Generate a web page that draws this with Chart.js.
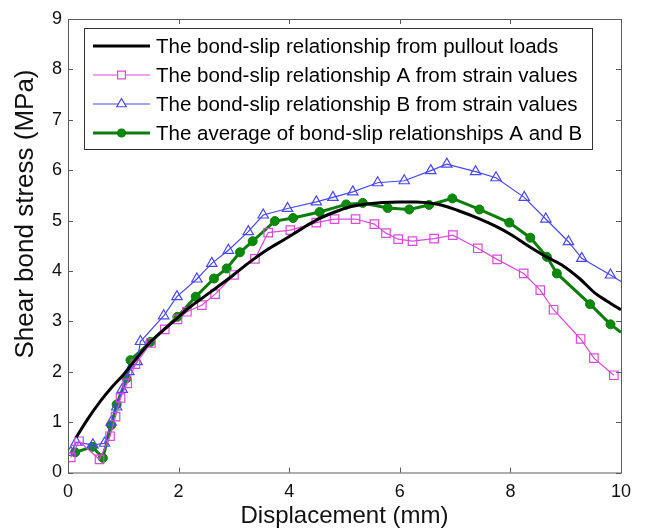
<!DOCTYPE html>
<html>
<head>
<meta charset="utf-8">
<script src="https://cdn.jsdelivr.net/npm/chart.js@4.4.1/dist/chart.umd.min.js"></script>
<style>
  html, body { margin: 0; padding: 0; background: #fff; }
  #wrap { width: 645px; height: 532px; }
</style>
</head>
<body>
<div id="wrap"><canvas id="bondChart" width="645" height="532"></canvas></div>
<script>
// Bond-slip data (displacement in mm, stress in MPa)
const pulloutX = [0.15, 0.35, 0.59, 0.80, 1.01, 1.25, 1.49, 1.75, 1.98, 2.20, 2.45, 2.75, 2.99, 3.29, 3.60, 3.89, 4.20, 4.49, 4.80, 5.09, 5.40, 5.69, 6.00, 6.29, 6.71, 7.05, 7.43, 7.75, 8.03, 8.36, 8.65, 8.93, 9.25, 9.53, 9.75, 10.0];
const pulloutY = [0.70, 1.05, 1.42, 1.70, 1.95, 2.28, 2.59, 2.85, 3.07, 3.28, 3.48, 3.72, 3.92, 4.18, 4.42, 4.61, 4.82, 5.01, 5.16, 5.27, 5.33, 5.36, 5.37, 5.37, 5.32, 5.20, 5.04, 4.88, 4.71, 4.47, 4.28, 4.12, 3.85, 3.56, 3.40, 3.23];

const slipAX = [0.05, 0.20, 0.57, 0.76, 0.86, 0.95, 1.07, 1.22, 1.50, 1.75, 1.98, 2.15, 2.42, 2.66, 3.00, 3.38, 3.62, 4.02, 4.49, 4.82, 5.20, 5.54, 5.75, 5.97, 6.23, 6.62, 6.96, 7.41, 7.76, 8.24, 8.54, 8.78, 9.27, 9.51, 9.87];
const slipAY = [0.30, 0.62, 0.26, 0.72, 1.11, 1.48, 1.77, 2.15, 2.57, 2.84, 3.04, 3.19, 3.32, 3.54, 3.92, 4.24, 4.76, 4.81, 4.96, 5.03, 5.03, 4.93, 4.75, 4.63, 4.59, 4.64, 4.71, 4.45, 4.23, 3.95, 3.62, 3.23, 2.65, 2.27, 1.93];

const slipBX = [0.05, 0.15, 0.45, 0.66, 0.78, 0.88, 0.98, 1.10, 1.25, 1.31, 1.73, 1.97, 2.33, 2.60, 2.90, 3.26, 3.53, 3.97, 4.49, 4.79, 5.15, 5.60, 6.08, 6.56, 6.85, 7.37, 7.74, 8.25, 8.64, 9.05, 9.29, 9.81, 10.0];
const slipBY = [0.40, 0.60, 0.55, 0.58, 1.00, 1.30, 1.65, 2.00, 2.20, 2.60, 3.11, 3.49, 3.84, 4.15, 4.41, 4.78, 5.11, 5.24, 5.37, 5.46, 5.57, 5.75, 5.79, 5.99, 6.12, 5.97, 5.85, 5.46, 5.03, 4.58, 4.25, 3.92, 3.79];

const avgX = [0.13, 0.44, 0.63, 0.78, 0.88, 1.06, 1.13, 1.49, 1.98, 2.31, 2.64, 2.87, 3.11, 3.34, 3.74, 4.07, 4.55, 5.03, 5.33, 5.78, 6.17, 6.53, 6.95, 7.44, 7.98, 8.36, 8.66, 8.84, 9.44, 9.81, 10.0];
const avgY = [0.40, 0.51, 0.29, 0.94, 1.35, 1.87, 2.23, 2.59, 3.09, 3.49, 3.85, 4.05, 4.37, 4.59, 4.99, 5.05, 5.17, 5.32, 5.35, 5.25, 5.22, 5.31, 5.44, 5.22, 4.96, 4.66, 4.28, 3.95, 3.34, 2.94, 2.78];

const xTicks = [0, 2, 4, 6, 8, 10];
const yTicks = [0, 1, 2, 3, 4, 5, 6, 7, 8, 9];

const seriesNames = [
    'The bond-slip relationship from pullout loads',
    'The bond-slip relationship A from strain values',
    'The bond-slip relationship B from strain values',
    'The average of bond-slip relationships A and B'
];

const FONT = '"Liberation Sans", Arial, Helvetica, sans-serif';

function pts(xs, ys) {
    return xs.map((x, i) => ({ x: x, y: ys[i] }));
}

// no marker where the line runs into the right axis
const edgeRadius = r => ctx => (ctx.raw && ctx.raw.x >= 10 ? 0 : r);

// matlab style box with inward ticks on all four sides
const frameTicks = {
    id: 'frameTicks',
    afterDraw(chart) {
        const c = chart.ctx;
        const a = chart.chartArea;
        const xs = chart.scales.x, ys = chart.scales.y;
        const len = 5;
        c.save();
        c.strokeStyle = '#5a5a5a';
        c.lineWidth = 1;
        c.strokeRect(a.left + 0.5, a.top + 0.5, a.right - a.left, a.bottom - a.top);
        c.beginPath();
        xTicks.forEach(v => {
            const px = Math.round(xs.getPixelForValue(v)) + 0.5;
            c.moveTo(px, a.bottom); c.lineTo(px, a.bottom - len);
            c.moveTo(px, a.top); c.lineTo(px, a.top + len);
        });
        yTicks.forEach(v => {
            const py = Math.round(ys.getPixelForValue(v)) + 0.5;
            c.moveTo(a.left, py); c.lineTo(a.left + len, py);
            c.moveTo(a.right, py); c.lineTo(a.right - len, py);
        });
        c.stroke();

        // y axis label, placed like the original (a bit above centre)
        c.fillStyle = '#111';
        c.font = '26px ' + FONT;
        c.textAlign = 'center';
        c.textBaseline = 'middle';
        c.translate(26, 214);
        c.rotate(-Math.PI / 2);
        c.fillText('Shear bond stress (MPa)', 0, 0);
        c.restore();
    }
};

// boxed legend in the upper left of the axes
const boxLegend = {
    id: 'boxLegend',
    afterDraw(chart) {
        const c = chart.ctx;
        const left = 84, top = 28, right = 592, bottom = 149;
        const rowY = [46, 75, 104, 133];
        c.save();
        c.fillStyle = '#fff';
        c.fillRect(left, top, right - left, bottom - top);
        c.strokeStyle = '#333';
        c.lineWidth = 1;
        c.strokeRect(left + 0.5, top + 0.5, right - left, bottom - top);
        chart.data.datasets.forEach((ds, i) => {
            const y = rowY[i];
            c.strokeStyle = ds.borderColor;
            c.lineWidth = ds.borderWidth;
            c.beginPath();
            c.moveTo(93, y); c.lineTo(150, y);
            c.stroke();
            if (ds.legendMarker) {
                c.fillStyle = ds.legendFill;
                c.strokeStyle = ds.pointBorderColor;
                c.lineWidth = 1.2;
                Chart.helpers.drawPoint(c, {
                    pointStyle: ds.pointStyle,
                    radius: ds.legendMarker,
                    borderWidth: 1.2,
                    rotation: 0
                }, 121.5, y);
            }
            c.fillStyle = '#000';
            c.font = '20.5px ' + FONT;
            c.textAlign = 'left';
            c.textBaseline = 'middle';
            c.fillText(seriesNames[i], 156, y + 1);
        });
        c.restore();
    }
};

const ctx = document.getElementById('bondChart').getContext('2d');
const bondChart = new Chart(ctx, {
    type: 'line',
    data: {
        datasets: [
            {
                label: seriesNames[0],
                data: pts(pulloutX, pulloutY),
                borderColor: '#000000',
                borderWidth: 3,
                pointRadius: 0,
                cubicInterpolationMode: 'monotone'
            },
            {
                label: seriesNames[1],
                data: pts(slipAX, slipAY),
                borderColor: '#d94ad9',
                borderWidth: 1.2,
                pointStyle: 'rect',
                pointRadius: 6,
                pointBorderWidth: 1.2,
                pointBorderColor: '#d94ad9',
                pointBackgroundColor: 'rgba(255,255,255,0)',
                legendMarker: 5.5,
                legendFill: '#ffffff',
                tension: 0
            },
            {
                label: seriesNames[2],
                data: pts(slipBX, slipBY),
                borderColor: '#4848ff',
                borderWidth: 1.2,
                pointStyle: 'triangle',
                pointRadius: edgeRadius(6),
                pointBorderWidth: 1.2,
                pointBorderColor: '#4848ff',
                pointBackgroundColor: 'rgba(255,255,255,0)',
                legendMarker: 5.5,
                legendFill: '#ffffff',
                tension: 0
            },
            {
                label: seriesNames[3],
                data: pts(avgX, avgY),
                borderColor: '#0a7d0a',
                borderWidth: 3,
                pointStyle: 'circle',
                pointRadius: edgeRadius(4.5),
                pointBorderWidth: 1,
                pointBorderColor: '#0a7d0a',
                pointBackgroundColor: '#0a8a0a',
                legendMarker: 4,
                legendFill: '#0a8a0a',
                tension: 0
            }
        ]
    },
    options: {
        responsive: false,
        animation: false,
        layout: { padding: { top: 19, right: 24, left: 0, bottom: 0 } },
        plugins: {
            legend: { display: false },
            tooltip: { enabled: false }
        },
        scales: {
            x: {
                type: 'linear',
                min: 0,
                max: 10,
                grid: { display: false, drawTicks: false },
                border: { display: false },
                afterBuildTicks: s => { s.ticks = xTicks.map(v => ({ value: v })); },
                afterFit: s => { s.height = 59.5; },
                ticks: {
                    color: '#111',
                    padding: 9,
                    font: { family: FONT, size: 18 }
                },
                title: {
                    display: true,
                    text: 'Displacement (mm)',
                    color: '#111',
                    padding: { top: 0, bottom: 1 },
                    font: { family: FONT, size: 24 }
                }
            },
            y: {
                min: 0,
                max: 9,
                grid: { display: false, drawTicks: false },
                border: { display: false },
                afterBuildTicks: s => { s.ticks = yTicks.map(v => ({ value: v })); },
                afterFit: s => { s.width = 68; },
                ticks: {
                    color: '#111',
                    padding: 6,
                    font: { family: FONT, size: 18 }
                }
            }
        }
    },
    plugins: [frameTicks, boxLegend]
});
</script>
</body>
</html>
